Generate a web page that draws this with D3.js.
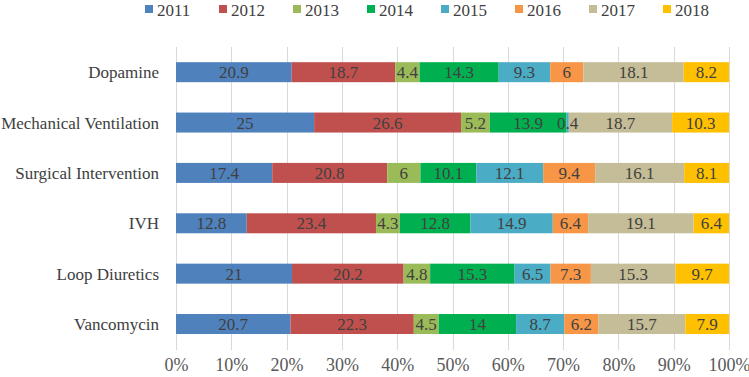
<!DOCTYPE html>
<html><head><meta charset="utf-8">
<script src="https://cdn.jsdelivr.net/npm/d3@7"></script>
<style>body{margin:0;background:#fff}svg{display:block}text{font-family:"Liberation Serif","DejaVu Serif",serif}</style>
</head><body><svg id="c" width="749" height="377"></svg>
<script>
const categories = ["Dopamine","Mechanical Ventilation","Surgical Intervention","IVH","Loop Diuretics","Vancomycin"];
const years = ["2011","2012","2013","2014","2015","2016","2017","2018"];
const v2011 = [20.9, 25, 17.4, 12.8, 21, 20.7];
const v2012 = [18.7, 26.6, 20.8, 23.4, 20.2, 22.3];
const v2013 = [4.4, 5.2, 6, 4.3, 4.8, 4.5];
const v2014 = [14.3, 13.9, 10.1, 12.8, 15.3, 14];
const v2015 = [9.3, 0.4, 12.1, 14.9, 6.5, 8.7];
const v2016 = [6, 0, 9.4, 6.4, 7.3, 6.2];
const v2017 = [18.1, 18.7, 16.1, 19.1, 15.3, 15.7];
const v2018 = [8.2, 10.3, 8.1, 6.4, 9.7, 7.9];
const tickLabels = ["0%","10%","20%","30%","40%","50%","60%","70%","80%","90%","100%"];
const colors = ["#4F81BD","#C0504D","#9BBB59","#00B050","#4BACC6","#F79646","#C4BD97","#FFC000"];

const series = [v2011,v2012,v2013,v2014,v2015,v2016,v2017,v2018];
const rows = categories.map((c,i)=>{
  const o = {cat:c}; years.forEach((y,j)=>o[y]=series[j][i]); return o;
});
const stacked = d3.stack().keys(years).offset(d3.stackOffsetExpand)(rows);

const svg = d3.select("#c");
const W = 749, H = 377;
const m = {l:176, r:20, t:47, b:H-349.2};
const x = d3.scaleLinear().domain([0,1]).range([m.l, W-m.r]);
const y = d3.scaleBand().domain(categories).range([m.t, H-m.b]).paddingInner(0.603).paddingOuter(0.3015);

// gridlines
svg.append("g").selectAll("line").data(d3.range(0,1.0001,0.1)).join("line")
  .attr("x1",d=>Math.round(x(d))+0.5).attr("x2",d=>Math.round(x(d))+0.5).attr("y1",m.t).attr("y2",H-m.b+1)
  .attr("stroke","#d9d9d9").attr("stroke-width",1);

// bars
const g = svg.append("g");
stacked.forEach((s,j)=>{
  g.append("g").selectAll("rect").data(s).join("rect")
    .attr("x",d=>x(d[0])).attr("width",d=>Math.max(0,x(d[1])-x(d[0])))
    .attr("y",(d,i)=>y(categories[i])).attr("height",y.bandwidth())
    .attr("fill",colors[j]);
});
const lab = svg.append("g");
stacked.forEach((s,j)=>{
  lab.append("g").selectAll("text").data(s.filter((d,i)=>series[j][i]>0)).join("text")
    .attr("x",d=>(x(d[0])+x(d[1]))/2)
    .attr("y",d=>y(d.data.cat)+y.bandwidth()/2)
    .attr("dy","0.36em").attr("text-anchor","middle")
    .attr("font-size",17).attr("fill","#404040")
    .text(d=>d.data[years[j]]);
});

// category labels
svg.append("g").selectAll("text").data(categories).join("text")
  .attr("x",m.l-17).attr("y",d=>y(d)+y.bandwidth()/2).attr("dy","0.36em")
  .attr("text-anchor","end").attr("font-size",17).attr("fill","#404040").text(d=>d);

// x axis labels
const ax = d3.axisBottom(x).tickValues(d3.range(0,1.0001,0.1)).tickSize(0).tickPadding(0)
  .tickFormat((d,i)=>tickLabels[i]);
const axg = svg.append("g").attr("transform",`translate(0,358)`).call(ax);
axg.select(".domain").remove();
axg.selectAll("text").attr("font-size",18).attr("fill","#595959").attr("font-family","Liberation Serif");

// legend
const lg = svg.append("g");
years.forEach((yr,j)=>{
  const lx = 145 + j*74;
  lg.append("rect").attr("x",lx).attr("y",5).attr("width",8).attr("height",8).attr("fill",colors[j]);
  lg.append("text").attr("x",lx+12).attr("y",9.5).attr("dy","0.36em").attr("font-size",17)
    .attr("fill","#404040").text(yr);
});
</script></body></html>
